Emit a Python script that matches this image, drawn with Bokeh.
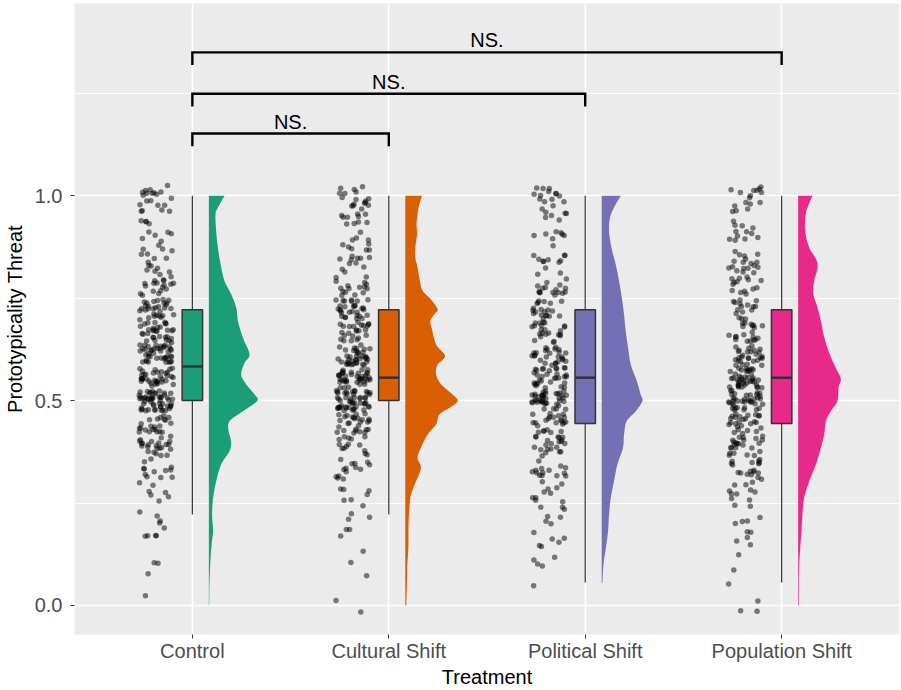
import math

from bokeh.core.properties import value
from bokeh.embed import file_html
from bokeh.models import ColumnDataSource, FixedTicker, NumeralTickFormatter, Range1d
from bokeh.plotting import figure
from bokeh.resources import INLINE

# ---------------------------------------------------------------- data
treatments = ["Control", "Cultural Shift", "Political Shift", "Population Shift"]
palette = ["#1B9E77", "#D95F02", "#7570B3", "#E7298A"]

# response levels of the threat scale (0 .. 1 in eighteenths)
levels = [0.000, 0.056, 0.111, 0.167, 0.222, 0.278, 0.333, 0.389, 0.444, 0.500,
          0.556, 0.611, 0.667, 0.722, 0.778, 0.833, 0.889, 0.944, 1.000]

# number of respondents at each level
counts_control = [1, 1, 2, 5, 4, 7, 12, 24, 22, 54, 36, 42, 32, 30, 18, 12, 10, 8, 16]
counts_cultural = [2, 1, 2, 3, 4, 6, 14, 14, 28, 50, 40, 38, 24, 30, 16, 11, 10, 11, 16]
counts_political = [0, 1, 4, 6, 7, 10, 14, 21, 24, 40, 32, 26, 23, 20, 16, 12, 8, 7, 14]
counts_population = [3, 1, 2, 5, 6, 10, 18, 24, 26, 38, 42, 28, 20, 16, 14, 17, 9, 7, 13]

# box-plot statistics per treatment
box_lower = [0.222, 0.222, 0.056, 0.056]
box_q1 = [0.500, 0.500, 0.444, 0.444]
box_median = [0.583, 0.556, 0.556, 0.556]
box_q3 = [0.722, 0.722, 0.722, 0.722]
box_upper = [1.000, 1.000, 1.000, 1.000]

# kernel density profiles (y, density) per treatment
dens_y_control = [1.000, 0.971, 0.955, 0.914, 0.874, 0.833, 0.792, 0.760, 0.727, 0.694,
                  0.654, 0.613, 0.592, 0.564, 0.540, 0.515, 0.499, 0.474, 0.450, 0.425,
                  0.401, 0.377, 0.344, 0.303, 0.262, 0.222, 0.181, 0.156, 0.116, 0.059, 0.000]
dens_control = [0.92, 0.53, 0.39, 0.43, 0.53, 0.69, 0.92, 1.31, 1.61, 1.71,
                2.00, 2.39, 2.10, 1.90, 2.19, 2.69, 2.84, 2.00, 1.22, 1.16,
                1.31, 1.22, 0.72, 0.43, 0.25, 0.19, 0.25, 0.18, 0.10, 0.04, 0.02]

dens_y_cultural = [1.000, 0.971, 0.955, 0.931, 0.906, 0.874, 0.849, 0.825, 0.792, 0.768,
                   0.747, 0.723, 0.711, 0.694, 0.674, 0.637, 0.609, 0.588, 0.564, 0.540,
                   0.515, 0.499, 0.482, 0.466, 0.442, 0.417, 0.385, 0.360, 0.336, 0.303,
                   0.271, 0.238, 0.197, 0.140, 0.099, 0.059, 0.000]
dens_cultural = [0.98, 0.78, 0.72, 0.66, 0.69, 0.59, 0.59, 0.72, 0.86, 1.02,
                 1.51, 1.90, 1.71, 1.47, 1.57, 1.81, 2.34, 1.90, 1.81, 2.10,
                 2.78, 3.08, 2.59, 2.00, 1.81, 1.31, 0.92, 0.72, 0.92, 0.63,
                 0.34, 0.24, 0.19, 0.18, 0.12, 0.10, 0.06]

dens_y_political = [1.000, 0.971, 0.947, 0.914, 0.874, 0.833, 0.792, 0.751, 0.711, 0.670,
                    0.629, 0.588, 0.548, 0.515, 0.499, 0.474, 0.450, 0.417, 0.385, 0.344,
                    0.303, 0.262, 0.222, 0.181, 0.140, 0.099, 0.055]
dens_political = [1.12, 0.72, 0.49, 0.43, 0.57, 0.82, 1.02, 1.18, 1.31, 1.41,
                  1.55, 1.71, 2.06, 2.29, 2.39, 2.00, 1.47, 1.31, 1.25, 0.92,
                  0.72, 0.53, 0.43, 0.37, 0.24, 0.10, 0.04]

dens_y_population = [1.000, 0.971, 0.955, 0.914, 0.874, 0.841, 0.817, 0.792, 0.760, 0.727,
                     0.694, 0.662, 0.629, 0.597, 0.572, 0.552, 0.531, 0.499, 0.474, 0.450,
                     0.417, 0.385, 0.344, 0.303, 0.262, 0.222, 0.181, 0.140, 0.099, 0.059, 0.000]
dens_population = [0.84, 0.55, 0.45, 0.41, 0.65, 1.10, 1.10, 0.94, 0.90, 1.14,
                   1.34, 1.49, 1.72, 2.02, 2.31, 2.51, 2.37, 2.31, 1.92, 1.63,
                   1.53, 1.34, 1.04, 0.65, 0.35, 0.25, 0.19, 0.12, 0.06, 0.04, 0.04]

# pairwise comparisons against Control
comp_from = [1, 1, 1]
comp_to = [2, 3, 4]
comp_height = [1.152, 1.249, 1.350]
comp_label = ["NS.", "NS.", "NS."]

all_counts = [counts_control, counts_cultural, counts_political, counts_population]
all_dens_y = [dens_y_control, dens_y_cultural, dens_y_political, dens_y_population]
all_dens = [dens_control, dens_cultural, dens_political, dens_population]

# ---------------------------------------------------------------- layout constants
FONT = "Liberation Sans"
PT_CENTER = -0.183     # cloud of points sits left of the box
PT_HALF_W = 0.088
PT_HALF_H = 0.025
BOX_HALF_W = 0.052
VIOLIN_BASE = 0.084    # half violin starts right of the box
VIOLIN_SCALE = 0.0866  # x units per density unit
TIP = 0.031


def scatter_offset(i, salt):
    """Deterministic pseudo-jitter in [0, 1) for point i."""
    return math.modf(abs(math.sin(i * 12.9898 + salt * 78.233) * 43758.5453))[0]


def smooth_outline(ys, ws, steps=8):
    """Catmull-Rom curve through the density readings, for a smooth outline."""
    n = len(ys)
    out_y, out_w = [], []
    for k in range(n - 1):
        p0 = max(k - 1, 0)
        p3 = min(k + 2, n - 1)
        for s in range(steps):
            t = s / steps
            t2, t3 = t * t, t * t * t
            def cr(a, b, c, d):
                return 0.5 * ((2 * b) + (-a + c) * t + (2 * a - 5 * b + 4 * c - d) * t2
                              + (-a + 3 * b - 3 * c + d) * t3)
            out_y.append(cr(ys[p0], ys[k], ys[k + 1], ys[p3]))
            out_w.append(max(0.0, cr(ws[p0], ws[k], ws[k + 1], ws[p3])))
    out_y.append(ys[-1])
    out_w.append(ws[-1])
    return out_y, out_w


p = figure(width=901, height=690,
           x_range=Range1d(0.4, 4.6), y_range=Range1d(-0.0709, 1.4694),
           output_backend="svg", toolbar_location=None,
           min_border_left=74, min_border_right=2, min_border_top=3, min_border_bottom=56)
p.background_fill_color = "#EBEBEB"
p.border_fill_color = "white"
p.outline_line_color = None

xticker = FixedTicker(ticks=[1, 2, 3, 4])
yticker = FixedTicker(ticks=[0.0, 0.5, 1.0], minor_ticks=[0.25, 0.75, 1.25])
p.xaxis.ticker = xticker
p.yaxis.ticker = yticker
p.xgrid.ticker = xticker
p.ygrid.ticker = yticker
p.xaxis.major_label_overrides = {i + 1: t for i, t in enumerate(treatments)}
p.yaxis.formatter = NumeralTickFormatter(format="0.0")
p.xaxis.axis_label = "Treatment"
p.yaxis.axis_label = "Prototypicality Threat"

for ax in (p.xaxis, p.yaxis):
    ax.axis_line_color = None
    ax.major_tick_line_color = "#333333"
    ax.major_tick_line_width = 1
    ax.major_tick_out = 4
    ax.major_tick_in = 0
    ax.minor_tick_line_color = None
    ax.major_label_text_font = FONT
    ax.major_label_text_font_size = "20px"
    ax.major_label_text_color = "#4D4D4D"
    ax.axis_label_text_font = FONT
    ax.axis_label_text_font_size = "20px"
    ax.axis_label_text_color = "black"
    ax.axis_label_text_font_style = "normal"
p.xaxis.major_label_standoff = 1
p.xaxis.axis_label_standoff = 1
p.yaxis.major_label_standoff = 8
p.yaxis.axis_label_standoff = 6

p.xgrid.grid_line_color = "white"
p.xgrid.grid_line_width = 1.6
p.ygrid.grid_line_color = "white"
p.ygrid.grid_line_width = 1.6
p.ygrid.minor_grid_line_color = "white"
p.ygrid.minor_grid_line_width = 0.9

# ---------------------------------------------------------------- jittered points
px, py = [], []
for g, counts in enumerate(all_counts):
    i = 0
    for lev, n in zip(levels, counts):
        for _ in range(n):
            u = scatter_offset(i + 1000 * g, 1)
            v = scatter_offset(i + 1000 * g, 2)
            px.append(g + 1 + PT_CENTER + (u - 0.5) * 2 * PT_HALF_W)
            py.append(lev + (v - 0.5) * 2 * PT_HALF_H)
            i += 1
p.scatter(px, py, size=5.5, fill_color="black", fill_alpha=0.5, line_color=None)

# ---------------------------------------------------------------- box plots
xs = [g + 1 for g in range(len(treatments))]
box_src = ColumnDataSource(dict(
    x=xs, lower=box_lower, q1=box_q1, med=box_median, q3=box_q3, upper=box_upper,
    left=[x - BOX_HALF_W for x in xs], right=[x + BOX_HALF_W for x in xs], color=palette))
p.segment(x0="x", y0="lower", x1="x", y1="q1", source=box_src, line_color="#333333", line_width=1.2)
p.segment(x0="x", y0="q3", x1="x", y1="upper", source=box_src, line_color="#333333", line_width=1.2)
p.quad(left="left", right="right", bottom="q1", top="q3", source=box_src,
       fill_color="color", line_color="#333333", line_width=1.5)
p.segment(x0="left", y0="med", x1="right", y1="med", source=box_src,
          line_color="#333333", line_width=2.5)

# ---------------------------------------------------------------- half violins
vx, vy = [], []
for g, (ys, ds) in enumerate(zip(all_dens_y, all_dens)):
    base = g + 1 + VIOLIN_BASE
    sy, sw = smooth_outline(ys, ds)
    vx.append([base + w * VIOLIN_SCALE for w in sw] + [base, base])
    vy.append(sy + [ys[-1], ys[0]])
p.patches(vx, vy, fill_color=palette, line_color=None)

# ---------------------------------------------------------------- significance brackets
bx, by = [], []
for a, b, h in zip(comp_from, comp_to, comp_height):
    bx.append([a, a, b, b])
    by.append([h - TIP, h, h, h - TIP])
p.multi_line(bx, by, line_color="black", line_width=2.4, line_join="miter")
p.text(x=[(a + b) / 2 for a, b in zip(comp_from, comp_to)], y=comp_height, text=comp_label,
       text_font=value(FONT), text_font_size=value("20px"), text_color="black",
       text_align="center", text_baseline="bottom", y_offset=-1)

open("out.html", "w").write(file_html(p, INLINE))
